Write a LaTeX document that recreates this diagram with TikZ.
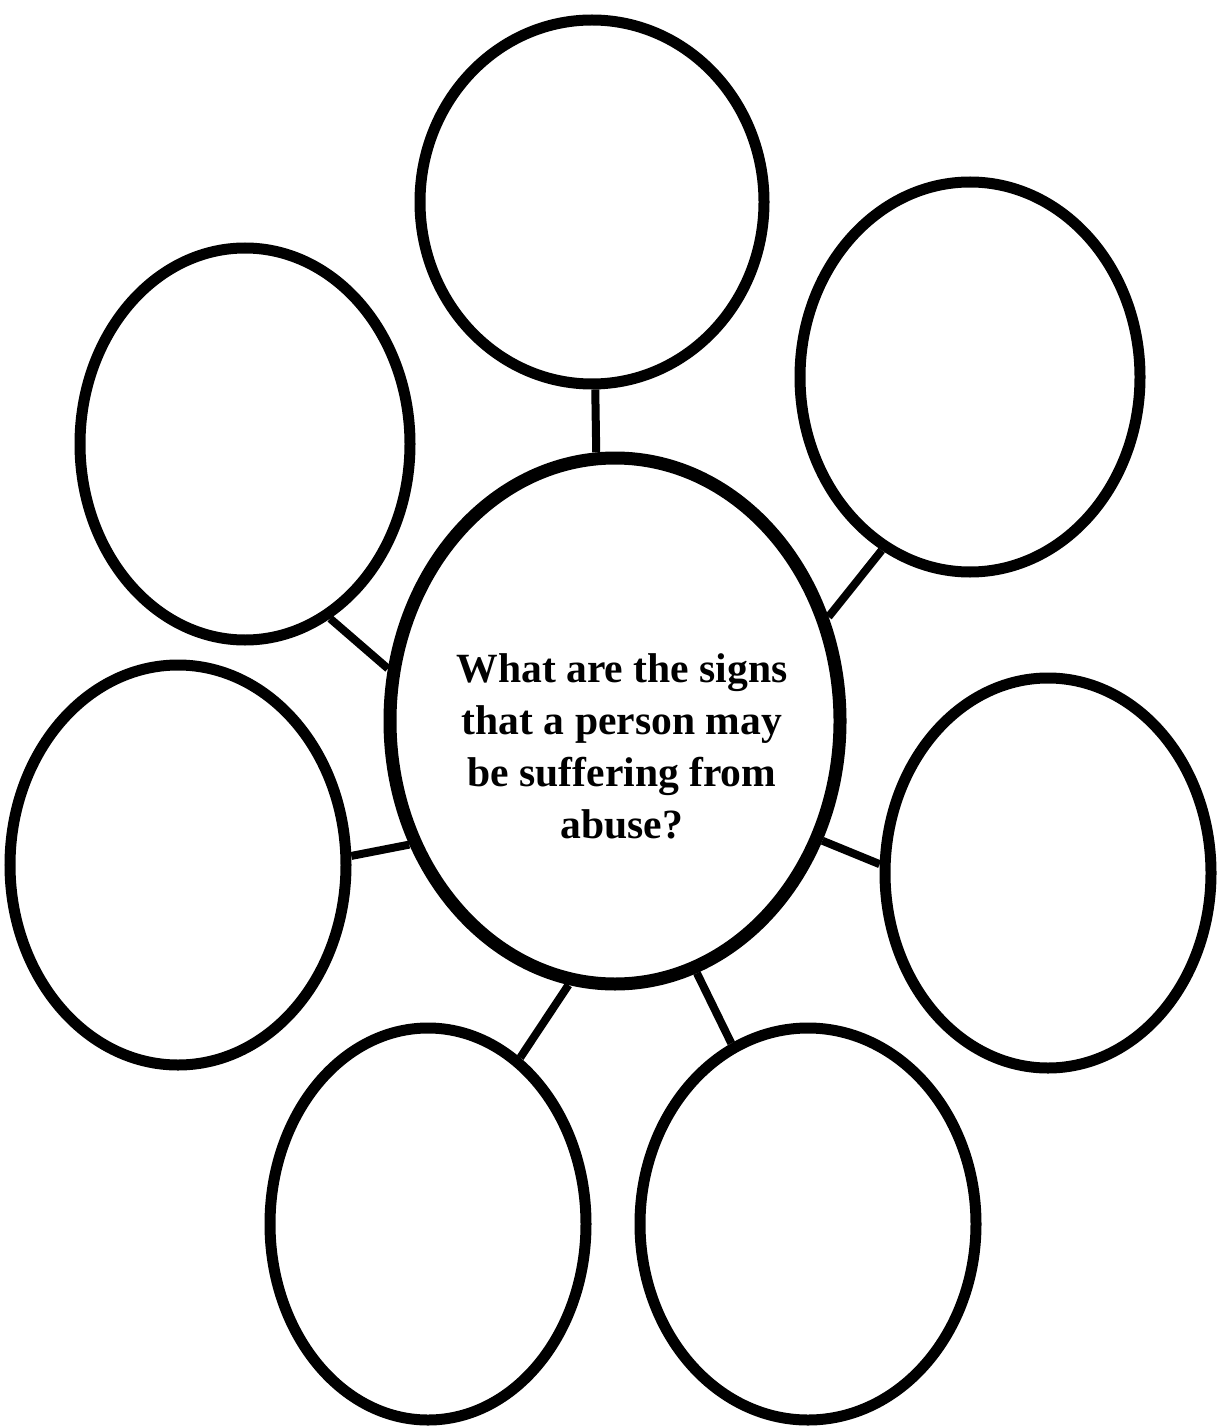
\documentclass[tikz,border=0pt]{standalone}
\usepackage{fontspec}
\setmainfont{Liberation Serif}
\usetikzlibrary{shapes.geometric}
\tikzset{
  bubble/.style 2 args={ellipse, draw=black, line width=5.5pt, fill=white, inner sep=0pt,
     minimum width=#1pt, minimum height=#2pt},
  link/.style={line width=4pt, draw=black},
  question/.style={align=center, font=\bfseries\fontsize{20.8}{26}\selectfont}
}
\begin{document}
\begin{tikzpicture}[x=0.5pt,y=-0.5pt]
\useasboundingbox[fill=white] (0,0) rectangle (1217,1428);
\node[bubble={172}{182}] (t) at (592,202) {};
\node[bubble={165}{196}] (ul) at (245,444) {};
\node[bubble={170}{195}] (ur) at (970,377) {};
\node[bubble={168}{200}] (l) at (178,865) {};
\node[bubble={163}{195}] (r) at (1048,873) {};
\node[bubble={158}{196}] (bl) at (428,1224) {};
\node[bubble={168}{196}] (br) at (808,1224) {};
\node[bubble={225}{263}, line width=6.5pt] (c) at (615,721) {};
\node[question] (q) at (622,746)
  {What are the signs\\that a person may\\be suffering from\\abuse?};
\draw[link] (t.-89) -- (c.94);
\draw[link] (ul.-64) -- (c.167.6);
\draw[link] (ur.243) -- (c.26);
\draw[link] (l.3.4) -- (c.211);
\draw[link] (r.177) -- (c.-30);
\draw[link] (bl.61) -- (c.-100.6);
\draw[link] (br.113) -- (c.-72);
\end{tikzpicture}
\end{document}
